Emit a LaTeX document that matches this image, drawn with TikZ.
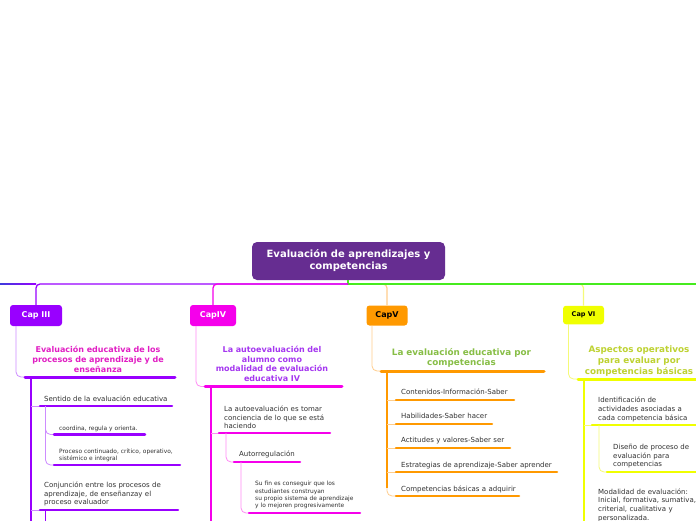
\documentclass[tikz,border=0pt]{standalone}
\usepackage{fontspec}
\setmainfont{DejaVu Sans}
\definecolor{central}{RGB}{102,45,145}
\definecolor{cthree}{RGB}{153,0,255}
\definecolor{cthreel}{RGB}{205,140,255}
\definecolor{cthreet}{RGB}{225,30,195}
\definecolor{cfour}{RGB}{245,0,235}
\definecolor{cfourl}{RGB}{255,140,245}
\definecolor{cfourt}{RGB}{165,55,240}
\definecolor{cfive}{RGB}{255,153,0}
\definecolor{cfivel}{RGB}{255,205,140}
\definecolor{cfivet}{RGB}{135,190,70}
\definecolor{csix}{RGB}{240,255,0}
\definecolor{csixl}{RGB}{245,250,120}
\definecolor{csixt}{RGB}{190,210,50}
\definecolor{mline}{RGB}{70,235,30}
\definecolor{leftblue}{RGB}{60,60,220}
\definecolor{txt}{RGB}{50,50,50}
\begin{document}
\begin{tikzpicture}[x=1pt,y=-1pt,
  capbox/.style={rounded corners=3pt, inner sep=0pt, font=\fontsize{8}{9}\selectfont\bfseries},
  headtxt/.style={inner sep=0pt, anchor=base, text width=170pt, align=center},
  leaf/.style={inner sep=0pt, anchor=base west, text width=170pt, align=left, text=txt, font=\fontsize{7}{8.7}\selectfont},
  smalltxt/.style={inner sep=0pt, anchor=base west, text width=170pt, align=left, text=txt, font=\fontsize{5.9}{7.2}\selectfont},
  huline/.style={line width=3pt, line cap=round},
  uline/.style={line width=2.5pt, line cap=round},
  trunk/.style={line width=2pt},
  twig/.style={line width=0.8pt, rounded corners=5pt}]
\fill[white] (0,0) rectangle (696,520);
\useasboundingbox (0,0) rectangle (696,520);

% root
\node[fill=central, rounded corners=5pt, minimum width=193pt, minimum height=38pt, inner sep=0pt,
  text=white, align=center, font=\fontsize{10}{12}\selectfont\bfseries] (root) at (348.5,261)
  {Evaluación de aprendizajes y\\competencias};

% cap nodes
\node[capbox, fill=cthree, text=white, minimum width=52pt, minimum height=21pt] (cap3) at (36,315.5) {Cap III};
\node[capbox, fill=cfour, text=white, minimum width=46pt, minimum height=21pt] (cap4) at (213,315.5) {CapIV};
\node[capbox, fill=cfive, text=black, minimum width=41pt, minimum height=20pt] (cap5) at (387,315.5) {CapV};
\node[capbox, fill=csix, text=black, minimum width=41pt, minimum height=18.5pt, font=\fontsize{6.5}{7}\selectfont\bfseries] (cap6) at (583.5,315) {Cap VI};

% main lines
\coordinate (hub) at (348,284);
\coordinate (leftend) at (0,284);
\coordinate (rightend) at (696,284);
\draw[cfivel, line width=1.2pt, rounded corners=4pt] (hub) -| (cap5.north);
\draw[csixl, line width=1.2pt, rounded corners=4pt] (hub) -| (cap6.north);
\draw[mline, line width=1.3pt] (root.south -| hub) -- (hub) -- (rightend);
\draw[cthree, line width=1.3pt, rounded corners=4pt] (hub) -| (cap3.north);
\draw[cfour, line width=1.3pt, rounded corners=4pt] (hub) -| (cap4.north);
\shade[left color=leftblue, right color=cthree] (0,283.35) rectangle (36,284.65);

% ===== Cap III =====
\node[headtxt, text=cthreet, font=\fontsize{8}{9.7}\selectfont\bfseries] (h3) at (98,352.8)
  {Evaluación educativa de los\\procesos de aprendizaje y de\\enseñanza};
\coordinate (h3a) at (25,377); \coordinate (h3b) at (175,377);
\coordinate (c3s) at (16,326);
\draw[cthreel, twig] (c3s) |- (h3a);
\draw[cthree, huline] (h3a) -- (h3b);
\coordinate (t3top) at (31,377); \coordinate (t3bot) at (31,522);
\draw[cthree, trunk] (t3top) -- (t3bot);

\node[leaf] (s31) at (44,401.3) {Sentido de la evaluación educativa};
\coordinate (s31a) at (40,406); \coordinate (s31b) at (172,406);
\draw[cthreel, line width=0.8pt] (s31a -| t3top) -- (s31a);
\draw[cthree, uline] (s31a) -- (s31b);

\coordinate (g3s) at (45.5,406);
\node[smalltxt] (g31) at (59,430) {coordina, regula y orienta.};
\coordinate (g31a) at (54,434.5); \coordinate (g31b) at (145,434.5);
\draw[cthreel, twig] (g3s) |- (g31a);
\draw[cthree, uline] (g31a) -- (g31b);
\node[smalltxt] (g32) at (59,453) {Proceso continuado, crítico, operativo,\\sistémico e integral};
\coordinate (g32a) at (54,465); \coordinate (g32b) at (180,465);
\draw[cthreel, twig] (g3s) |- (g32a);
\draw[cthree, uline] (g32a) -- (g32b);

\node[leaf] (s32) at (44,487.3) {Conjunción entre los procesos de\\aprendizaje, de enseñanzay el\\proceso evaluador};
\coordinate (s32a) at (40,510); \coordinate (s32b) at (178,510);
\draw[cthreel, line width=0.8pt] (s32a -| t3top) -- (s32a);
\draw[cthree, uline] (s32a) -- (s32b);
\coordinate (g3t) at (45.5,510); \coordinate (g3u) at (45.5,522);
\draw[cthree, line width=0.9pt] (g3t) -- (g3u);

% ===== Cap IV =====
\node[headtxt, text=cfourt, font=\fontsize{8}{9.4}\selectfont\bfseries] (h4) at (272,352.8)
  {La autoevaluación del\\alumno como\\modalidad de evaluación\\educativa IV};
\coordinate (h4a) at (205,386.5); \coordinate (h4b) at (342,386.5);
\coordinate (c4s) at (196,326);
\draw[cfourl, twig] (c4s) |- (h4a);
\draw[cfour, huline] (h4a) -- (h4b);
\coordinate (t4top) at (211,386.5); \coordinate (t4bot) at (211,522);
\draw[cfour, trunk] (t4top) -- (t4bot);

\node[leaf] (s41) at (224,411.3) {La autoevaluación es tomar\\conciencia de lo que se está\\haciendo};
\coordinate (s41a) at (219,433); \coordinate (s41b) at (330,433);
\draw[cfourl, line width=0.8pt] (s41a -| t4top) -- (s41a);
\draw[cfour, uline] (s41a) -- (s41b);

\coordinate (g4s) at (226,433);
\node[leaf] (g41) at (239,456.3) {Autorregulación};
\coordinate (g41a) at (234,462); \coordinate (g41b) at (300,462);
\draw[cfourl, twig] (g4s) |- (g41a);
\draw[cfour, uline] (g41a) -- (g41b);

\coordinate (gg4s) at (241,462);
\node[smalltxt] (gg41) at (255,485.8) {Su fin es conseguir que los\\estudiantes construyan\\su propio sistema de aprendizaje\\y lo mejoren progresivamente};
\coordinate (gg41a) at (249,513); \coordinate (gg41b) at (360,513);
\draw[cfourl, twig] (gg4s) |- (gg41a);
\draw[cfour, uline] (gg41a) -- (gg41b);

% ===== Cap V =====
\node[headtxt, text=cfivet, font=\fontsize{8.8}{10.5}\selectfont\bfseries] (h5) at (461.5,355.2)
  {La evaluación educativa por\\competencias};
\coordinate (h5a) at (381,371); \coordinate (h5b) at (544,371);
\coordinate (c5s) at (372,325.5);
\draw[cfivel, twig] (c5s) |- (h5a);
\draw[cfive, huline] (h5a) -- (h5b);
\coordinate (t5top) at (387,371); \coordinate (t5bot) at (387,488);
\draw[cfive, line width=1.6pt] (t5top) -- (t5bot);

\node[leaf] (s51) at (401,394.3) {Contenidos-Información-Saber};
\coordinate (s51a) at (396,400); \coordinate (s51b) at (514,400);
\node[leaf] (s52) at (401,418.3) {Habilidades-Saber hacer};
\coordinate (s52a) at (396,424); \coordinate (s52b) at (492,424);
\node[leaf] (s53) at (401,442.3) {Actitudes y valores-Saber ser};
\coordinate (s53a) at (396,448); \coordinate (s53b) at (510,448);
\node[leaf] (s54) at (401,467.3) {Estrategias de aprendizaje-Saber aprender};
\coordinate (s54a) at (396,472); \coordinate (s54b) at (557,472);
\node[leaf] (s55) at (401,491.3) {Competencias básicas a adquirir};
\coordinate (s55a) at (396,496); \coordinate (s55b) at (519,496);
\foreach \n in {s51,s52,s53,s54}{
  \draw[cfivel, line width=0.8pt] (\n a -| t5top) -- (\n a);
  \draw[cfive, uline] (\n a) -- (\n b);
}
\draw[cfivel, twig] (t5bot) |- (s55a);
\draw[cfive, uline] (s55a) -- (s55b);

% ===== Cap VI =====
\node[headtxt, text=csixt, font=\fontsize{8.8}{11}\selectfont\bfseries] (h6) at (639,352.2)
  {Aspectos operativos\\para evaluar por\\competencias básicas};
\coordinate (h6a) at (578,379); \coordinate (h6b) at (710,379);
\coordinate (c6s) at (568.5,324);
\draw[csixl, twig] (c6s) |- (h6a);
\draw[csix, huline] (h6a) -- (h6b);
\coordinate (t6top) at (583.5,379); \coordinate (t6bot) at (583.5,522);
\draw[csix, trunk] (t6top) -- (t6bot);

\node[leaf, font=\fontsize{7}{9}\selectfont] (s61) at (598,402.3) {Identificación de\\actividades asociadas a\\cada competencia básica};
\coordinate (s61a) at (592,425); \coordinate (s61b) at (710,425);
\draw[csixl, line width=0.8pt] (s61a -| t6top) -- (s61a);
\draw[csix, uline] (s61a) -- (s61b);

\coordinate (g6s) at (599,425);
\node[leaf] (g61) at (613,449.3) {Diseño de proceso de\\evaluación para\\competencias};
\coordinate (g61a) at (607,472); \coordinate (g61b) at (710,472);
\draw[csixl, twig] (g6s) |- (g61a);
\draw[csix, uline] (g61a) -- (g61b);

\node[leaf, font=\fontsize{7}{8.8}\selectfont] (s62) at (598,494) {Modalidad de evaluación:\\Inicial, formativa, sumativa,\\criterial, cualitativa y\\personalizada.};
\end{tikzpicture}
\end{document}
